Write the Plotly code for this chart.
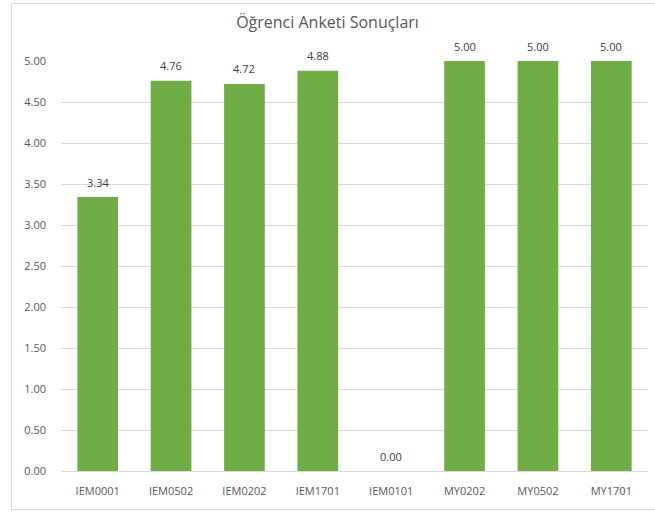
import plotly.graph_objects as go

categories = ["IEM0001", "IEM0502", "IEM0202", "IEM1701", "IEM0101", "MY0202", "MY0502", "MY1701"]
scores = [3.34, 4.76, 4.72, 4.88, 0.00, 5.00, 5.00, 5.00]
y_ticks = [0, 0.5, 1, 1.5, 2, 2.5, 3, 3.5, 4, 4.5, 5]
y_tick_labels = [f"{v:.2f}" for v in y_ticks]
title_text = "Öğrenci Anketi Sonuçları"

W, H = 655, 512
L, R, T, B = 61, 7, 61, 41
pw = W - L - R
ph = H - T - B
FONT = "Open Sans, Lato, sans-serif"

fig = go.Figure(go.Bar(
    x=categories, y=scores,
    marker=dict(color="#70AD47", line=dict(width=0)),
    width=0.555,
    hoverinfo="x+y",
))

for c, v in zip(categories, scores):
    fig.add_annotation(x=c, y=v, text=f"{v:.2f}", showarrow=False,
                       yanchor="middle", yshift=15,
                       font=dict(family=FONT, size=11, color="#404040"))

fig.update_layout(
    width=W, height=H,
    margin=dict(l=L, r=R, t=T, b=B),
    paper_bgcolor="white", plot_bgcolor="white",
    showlegend=False,
    title=dict(text=title_text, x=0.5, xanchor="center", y=1 - 22 / H, yanchor="middle",
               font=dict(family=FONT, size=16, color="#595959")),
    xaxis=dict(showgrid=False, showline=True, linecolor="#D9D9D9", linewidth=1,
               ticks="", ticklabelstandoff=10,
               tickfont=dict(family=FONT, size=11, color="#595959")),
    yaxis=dict(range=[0, 5], tickvals=y_ticks, ticktext=y_tick_labels,
               showgrid=True, gridcolor="#D9D9D9", gridwidth=1, zeroline=False,
               showline=False, ticks="", ticklabelstandoff=14,
               tickfont=dict(family=FONT, size=11, color="#595959")),
    bargap=0.445,
)

# outer chart border
x0 = (11.5 - L) / pw
x1 = (W + 5 - L) / pw
y1 = (H - B - 3.5) / ph
y0 = (H - B - 509.5) / ph
fig.add_shape(type="rect", xref="paper", yref="paper", x0=x0, x1=x1, y0=y0, y1=y1,
              line=dict(color="#D9D9D9", width=1), fillcolor="rgba(0,0,0,0)", layer="below")

fig.write_html("out.html", config={"displayModeBar": False},
               post_script="document.body.style.margin='0';document.body.style.overflow='hidden';")
